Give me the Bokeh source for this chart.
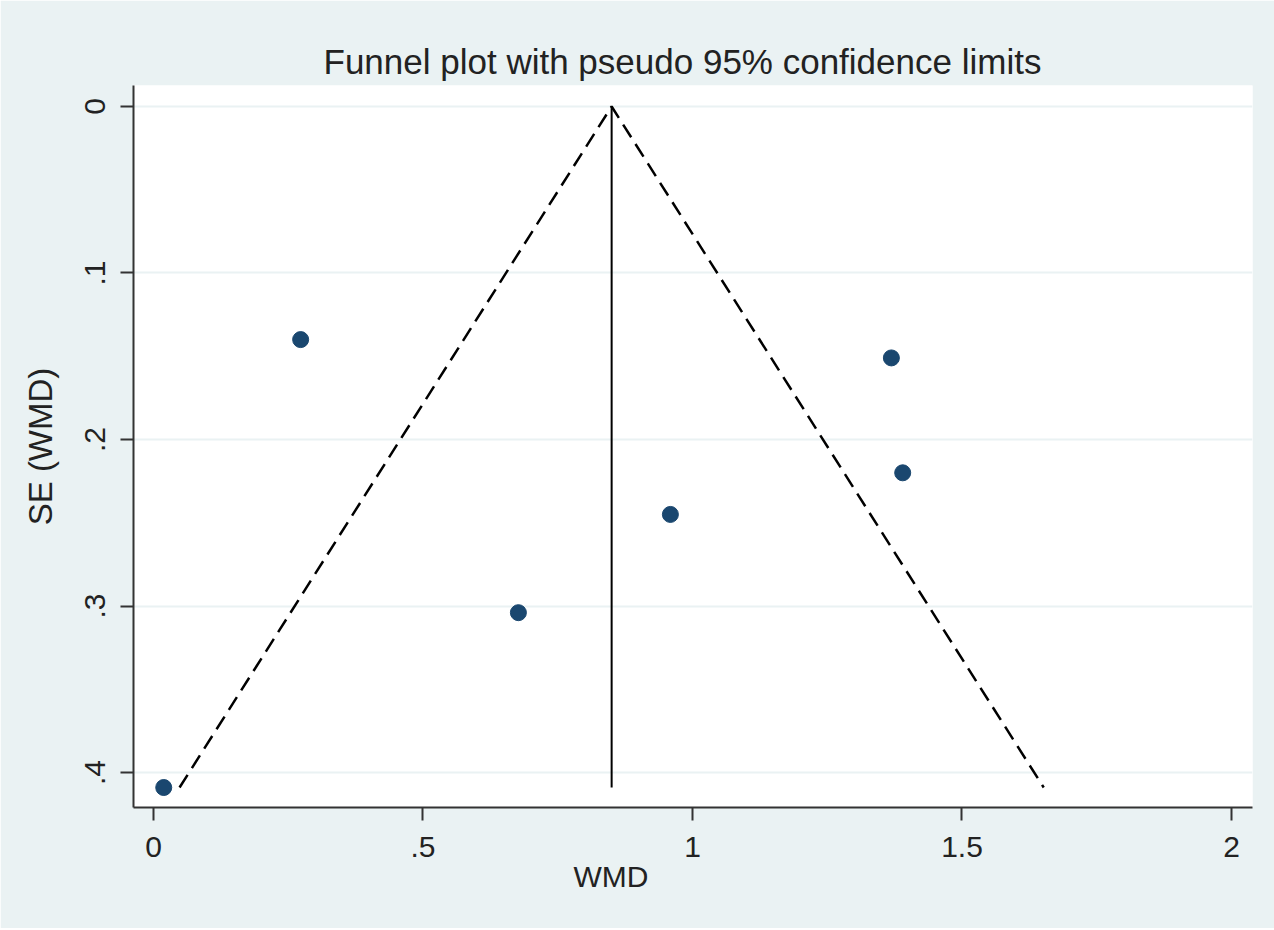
from bokeh.plotting import figure
from bokeh.models import Range1d, FixedTicker, Title
from bokeh.embed import file_html
from bokeh.resources import INLINE

# Data
wmd = [0.019, 0.273, 0.677, 0.959, 1.369, 1.390]
se = [0.409, 0.140, 0.304, 0.245, 0.151, 0.220]
pooled_wmd = 0.85
z_95 = 1.96
x_ticks = [0, 0.5, 1, 1.5, 2]
x_tick_labels = ["0", ".5", "1", "1.5", "2"]
y_ticks = [0, 0.1, 0.2, 0.3, 0.4]
y_tick_labels = ["0", ".1", ".2", ".3", ".4"]

FONT = "Liberation Sans"
BG = "#eaf2f3"
INK = "#222222"

max_se = max(se)

p = figure(
    width=1274, height=928,
    output_backend="svg", toolbar_location=None,
    x_range=Range1d(-0.0371, 2.039),
    y_range=Range1d(0.421, -0.0126),
    min_border_left=133, min_border_right=22,
    min_border_top=85, min_border_bottom=121,
)
p.border_fill_color = BG
p.background_fill_color = "white"
p.outline_line_color = None

# Title
p.title.text = "Funnel plot with pseudo 95% confidence limits"
p.title.align = "left"
p.title.text_font = FONT
p.title.text_font_size = "35px"
p.title.text_font_style = "normal"
p.title.text_color = INK
p.title.offset = 190
p.title.standoff = 10

# Grid
p.xgrid.visible = False
p.ygrid.grid_line_color = BG
p.ygrid.grid_line_width = 2
p.ygrid.ticker = FixedTicker(ticks=y_ticks)

# Axes
for ax in (p.xaxis[0], p.yaxis[0]):
    ax.axis_line_color = "#333333"
    ax.axis_line_width = 2
    ax.major_tick_line_color = "#333333"
    ax.major_tick_line_width = 2
    ax.major_tick_out = 13
    ax.major_tick_in = 0
    ax.minor_tick_line_color = None
    ax.major_label_text_font = FONT
    ax.major_label_text_font_size = "30px"
    ax.major_label_text_color = INK
    ax.axis_label_text_font = FONT
    ax.axis_label_text_font_size = "33px"
    ax.axis_label_text_font_style = "normal"
    ax.axis_label_text_color = INK

p.xaxis.ticker = FixedTicker(ticks=x_ticks)
p.xaxis.major_label_overrides = {t: l for t, l in zip(x_ticks, x_tick_labels)}
p.xaxis.major_label_standoff = 16

p.yaxis.ticker = FixedTicker(ticks=y_ticks)
p.yaxis.major_label_overrides = {t: l for t, l in zip(y_ticks, y_tick_labels)}
p.yaxis.major_label_orientation = "vertical"
p.yaxis.major_label_standoff = 15
p.yaxis.axis_label = "SE (WMD)"
p.yaxis.axis_label_standoff = 24

# x-axis title, placed as in the reference (left of centre)
xlab = Title(text="WMD", align="left", offset=440, standoff=-4,
             text_font=FONT, text_font_size="30px", text_font_style="normal",
             text_color=INK)
p.add_layout(xlab, "below")

# Funnel: pseudo 95% limits and pooled estimate
p.line([pooled_wmd - z_95 * max_se, pooled_wmd, pooled_wmd + z_95 * max_se],
       [max_se, 0, max_se], line_color="black", line_width=2.5, line_dash="15 8")
p.line([pooled_wmd, pooled_wmd], [0, max_se], line_color="black", line_width=2)

# Studies
p.scatter(wmd, se, size=16, marker="circle", fill_color="#1a476f",
          line_color="#1a476f")

open("out.html", "w").write(file_html(p, INLINE))
